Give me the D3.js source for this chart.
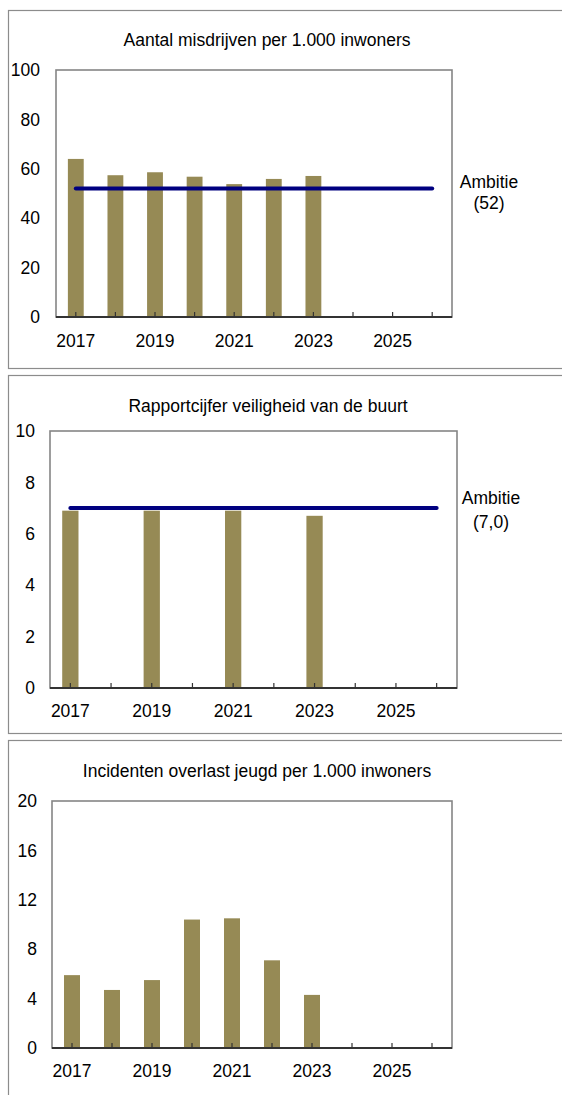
<!DOCTYPE html>
<html>
<head>
<meta charset="utf-8">
<script src="https://cdn.jsdelivr.net/npm/d3@7"></script>
<style>
  body { margin: 0; background: #fff; }
  svg { display: block; font-family: "Liberation Sans", Arial, sans-serif; }
</style>
</head>
<body>
<svg id="chart" width="562" height="1095"></svg>
<script>
// years on the x axis (labels shown every other year)
const years = ["2017", "2018", "2019", "2020", "2021", "2022", "2023", "2024", "2025", "2026"];
const yearLabels = ["2017", "2019", "2021", "2023", "2025"];

// chart 1: misdrijven per 1.000 inwoners
const misdrijven = [64, 57.4, 58.6, 56.8, 53.8, 55.9, 57.1, null, null, null];
const misdrijvenAmbitie = 52;
const misdrijvenTicks = [0, 20, 40, 60, 80, 100];

// chart 2: rapportcijfer veiligheid
const veiligheid = [6.9, null, 6.9, null, 6.9, null, 6.7, null, null, null];
const veiligheidAmbitie = 7.0;
const veiligheidTicks = [0, 2, 4, 6, 8, 10];

// chart 3: overlast jeugd per 1.000 inwoners
const overlast = [5.9, 4.7, 5.5, 10.4, 10.5, 7.1, 4.3, null, null, null];
const overlastTicks = [0, 4, 8, 12, 16, 20];

const barColor = "#968a55";
const lineColor = "#000080";
const fontSize = 17.5;

const svg = d3.select("#chart");

function drawChart(cfg) {
  const g = svg.append("g");

  // outer panel border
  g.append("rect")
    .attr("x", 8.5).attr("y", cfg.panelTop + 0.5)
    .attr("width", 600).attr("height", cfg.panelHeight)
    .attr("fill", "none").attr("stroke", "#8c8c8c").attr("stroke-width", 1.2);

  // title
  g.append("text")
    .attr("x", cfg.titleX).attr("y", cfg.titleY)
    .attr("text-anchor", "middle")
    .attr("font-size", fontSize)
    .text(cfg.title);

  const x = d3.scaleBand()
    .domain(years)
    .range([cfg.left, cfg.right])
    .paddingInner(0.6)
    .paddingOuter(0.3);

  const y = d3.scaleLinear()
    .domain([0, d3.max(cfg.ticks)])
    .range([cfg.bottom, cfg.top]);

  // plot box
  g.append("rect")
    .attr("x", cfg.left).attr("y", cfg.top)
    .attr("width", cfg.right - cfg.left).attr("height", cfg.bottom - cfg.top)
    .attr("fill", "none").attr("stroke", "#858585").attr("stroke-width", 1.6);

  // bars
  const data = years.map((yr, i) => ({ year: yr, value: cfg.values[i] }))
    .filter(d => d.value != null);

  g.selectAll("rect.bar")
    .data(data)
    .enter()
    .append("rect")
    .attr("class", "bar")
    .attr("x", d => x(d.year))
    .attr("width", x.bandwidth())
    .attr("y", d => y(d.value))
    .attr("height", d => y(0) - y(d.value))
    .attr("fill", barColor);

  // y axis
  const yAxis = d3.axisLeft(y)
    .tickValues(cfg.ticks)
    .tickSize(0)
    .tickPadding(cfg.yPad);
  const ya = g.append("g")
    .attr("transform", `translate(${cfg.left},0)`)
    .call(yAxis);
  ya.select(".domain").remove();
  ya.selectAll("text").attr("font-size", fontSize).attr("fill", "#000")
    .attr("font-family", null);

  // x axis (ticks on category centres, pointing up)
  const xAxis = d3.axisBottom(x)
    .tickSizeInner(-5)
    .tickSizeOuter(0)
    .tickPadding(cfg.xPad)
    .tickFormat(d => yearLabels.includes(d) ? d : "");
  const xa = g.append("g")
    .attr("transform", `translate(0,${cfg.bottom})`)
    .call(xAxis);
  xa.select(".domain")
    .attr("d", `M${cfg.left},0H${cfg.right}`)
    .attr("stroke", "#333").attr("stroke-width", 1.8);
  xa.selectAll(".tick line").attr("stroke", "#333").attr("stroke-width", 1.2);
  xa.selectAll("text").attr("font-size", fontSize).attr("fill", "#000")
    .attr("font-family", null);

  // ambition line
  if (cfg.ambitie != null) {
    const cx = d => x(d) + x.bandwidth() / 2;
    g.append("line")
      .attr("x1", cx(years[0])).attr("x2", cx(years[years.length - 1]))
      .attr("y1", y(cfg.ambitie)).attr("y2", y(cfg.ambitie))
      .attr("stroke", lineColor).attr("stroke-width", 4)
      .attr("stroke-linecap", "round");

    g.append("text")
      .attr("x", cfg.ambX).attr("y", cfg.ambY)
      .attr("text-anchor", "middle")
      .attr("font-size", fontSize)
      .text("Ambitie");
    g.append("text")
      .attr("x", cfg.ambX).attr("y", cfg.ambY + cfg.ambGap)
      .attr("text-anchor", "middle")
      .attr("font-size", fontSize)
      .text(cfg.ambLabel);
  }
}

drawChart({
  panelTop: 10, panelHeight: 358,
  title: "Aantal misdrijven per 1.000 inwoners", titleX: 267, titleY: 46,
  left: 56, right: 452, top: 70, bottom: 317,
  values: misdrijven, ticks: misdrijvenTicks, yPad: 16, xPad: 18,
  ambitie: misdrijvenAmbitie, ambLabel: "(52)", ambX: 489, ambY: 188, ambGap: 21
});

drawChart({
  panelTop: 375, panelHeight: 358,
  title: "Rapportcijfer veiligheid van de buurt", titleX: 268, titleY: 412,
  left: 50, right: 457, top: 431, bottom: 688,
  values: veiligheid, ticks: veiligheidTicks, yPad: 15, xPad: 17,
  ambitie: veiligheidAmbitie, ambLabel: "(7,0)", ambX: 491, ambY: 504, ambGap: 24
});

drawChart({
  panelTop: 740, panelHeight: 400,
  title: "Incidenten overlast jeugd per 1.000 inwoners", titleX: 257, titleY: 777,
  left: 52, right: 452, top: 801, bottom: 1048,
  values: overlast, ticks: overlastTicks, yPad: 15, xPad: 17,
  ambitie: null
});
</script>
</body>
</html>
